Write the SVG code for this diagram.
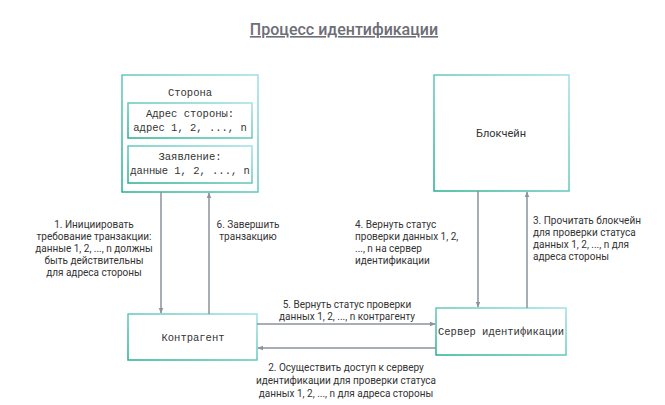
<svg xmlns="http://www.w3.org/2000/svg" width="665" height="405" viewBox="0 0 665 405">
<style>
.box{fill:#fff;stroke:url(#g);stroke-width:1.5}
.mono{font-family:"Liberation Mono","DejaVu Sans Mono",monospace;font-size:10.5px;fill:#333;text-anchor:middle}
.lbl{font-family:Roboto,"Noto Sans",sans-serif;font-size:10px;fill:#333}
.c{text-anchor:middle}
.edge{stroke:#8c939b;stroke-width:1.5;fill:none;marker-end:url(#a)}
</style>
<defs>
<linearGradient id="g" x1="0" y1="1" x2="1" y2="0">
<stop offset="0" stop-color="#24b08f"/>
<stop offset="1" stop-color="#9fe0e6"/>
</linearGradient>
<marker id="a" viewBox="0 0 10 10" refX="9" refY="5" markerWidth="6" markerHeight="6" orient="auto" markerUnits="userSpaceOnUse">
<path d="M0,1 L10,5 L0,9 z" fill="#8c939b"/>
</marker>
</defs>
<rect width="665" height="405" fill="#fff"/>
<text x="344" y="35" style="font-family:Roboto,'Noto Sans',sans-serif;font-size:16px;font-weight:500;fill:#6d6e76;text-decoration:underline" text-anchor="middle">Процесс идентификации</text>

<g id="storona">
<rect class="box" x="122" y="75" width="136" height="117"/>
<text class="mono" x="190" y="96">Сторона</text>
<rect class="box" x="128" y="103" width="124" height="35"/>
<text class="mono" x="190" y="117">Адрес стороны:</text>
<text class="mono" x="190" y="131">адрес 1, 2, ..., n</text>
<rect class="box" x="128" y="146" width="124" height="37"/>
<text class="mono" x="190" y="160">Заявление:</text>
<text class="mono" x="190" y="174">данные 1, 2, ..., n</text>
</g>

<g id="blockchain">
<rect class="box" x="434" y="75" width="135" height="116"/>
<text x="501" y="137" style="font-family:Roboto,'Noto Sans',sans-serif;font-size:11px;fill:#333" text-anchor="middle">Блокчейн</text>
</g>

<g id="kontragent">
<rect class="box" x="128" y="314" width="129" height="46"/>
<text class="mono" x="193" y="341">Контрагент</text>
</g>

<g id="server">
<rect class="box" x="436" y="308" width="130" height="47"/>
<text class="mono" x="501" y="335">Сервер идентификации</text>
</g>

<g id="connectors">
<line class="edge" x1="161" y1="192" x2="161" y2="313"/>
<line class="edge" x1="209" y1="314" x2="209" y2="193"/>
<line class="edge" x1="478" y1="191" x2="478" y2="307"/>
<line class="edge" x1="527" y1="308" x2="527" y2="192"/>
<line class="edge" x1="257" y1="324" x2="435" y2="324"/>
<line class="edge" x1="436" y1="348" x2="258" y2="348"/>
</g>

<g id="labels">
<text class="lbl c" x="94" y="228">1. Инициировать</text>
<text class="lbl c" x="94" y="240">требование транзакции:</text>
<text class="lbl c" x="94" y="252">данные 1, 2, ..., n должны</text>
<text class="lbl c" x="94" y="264">быть действительны</text>
<text class="lbl c" x="94" y="276">для адреса стороны</text>

<text class="lbl c" x="248" y="228">6. Завершить</text>
<text class="lbl c" x="248" y="240">транзакцию</text>

<text class="lbl" x="355" y="228">4. Вернуть статус</text>
<text class="lbl" x="355" y="240">проверки данных 1, 2,</text>
<text class="lbl" x="355" y="252">..., n на сервер</text>
<text class="lbl" x="355" y="264">идентификации</text>

<text class="lbl" x="533" y="224">3. Прочитать блокчейн</text>
<text class="lbl" x="533" y="236">для проверки статуса</text>
<text class="lbl" x="533" y="248">данных 1, 2, ..., n для</text>
<text class="lbl" x="533" y="260">адреса стороны</text>

<text class="lbl c" x="347" y="308">5. Вернуть статус проверки</text>
<text class="lbl c" x="347" y="320">данных 1, 2, ..., n контрагенту</text>

<text class="lbl c" x="346" y="371">2. Осуществить доступ к серверу</text>
<text class="lbl c" x="346" y="384">идентификации для проверки статуса</text>
<text class="lbl c" x="346" y="397">данных 1, 2, ..., n для адреса стороны</text>
</g>
</svg>
